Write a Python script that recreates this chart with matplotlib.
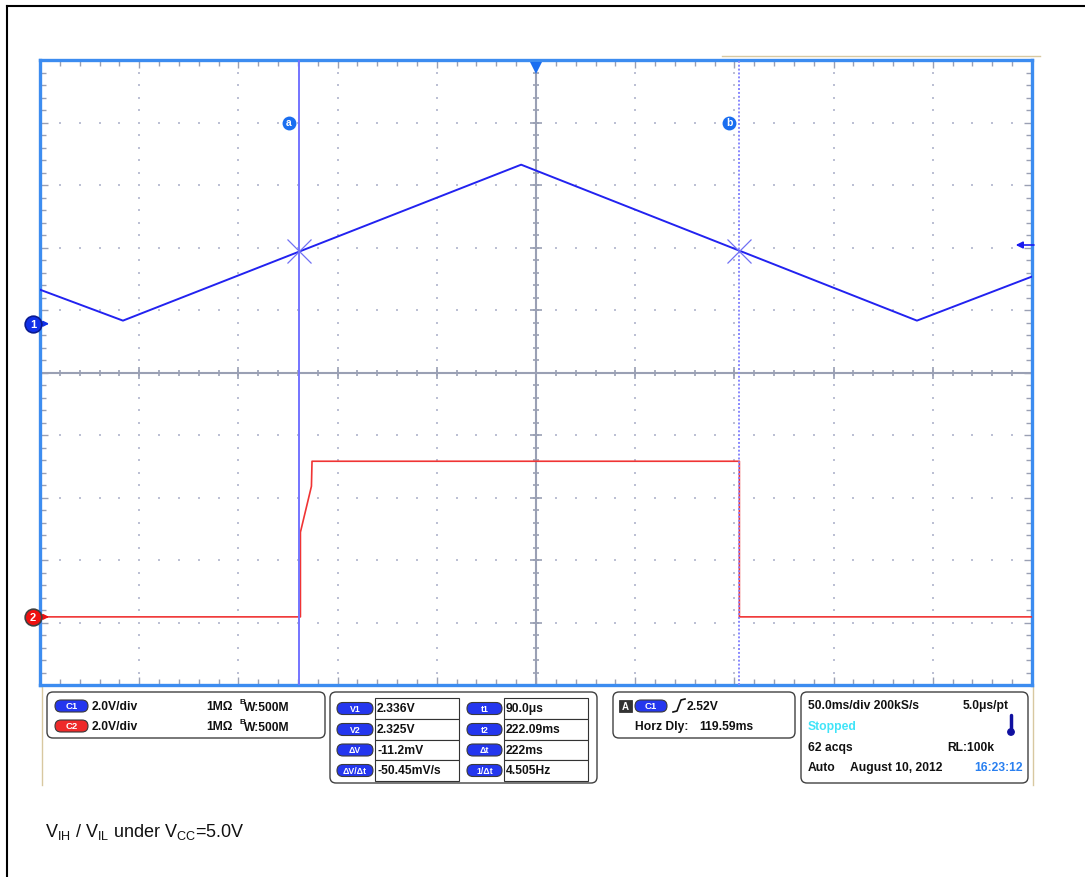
import numpy as np
import matplotlib
matplotlib.use("Agg")
import matplotlib.pyplot as plt
from matplotlib.patches import FancyBboxPatch, Rectangle, Circle
from matplotlib.transforms import blended_transform_factory

plt.rcParams['font.family'] = ['Liberation Sans', 'DejaVu Sans']
plt.rcParams['mathtext.fontset'] = 'custom'
plt.rcParams['mathtext.rm'] = 'Liberation Sans'
plt.rcParams['mathtext.it'] = 'Liberation Sans:italic'
plt.rcParams['mathtext.bf'] = 'Liberation Sans:bold'

# ---- data (time in ms, volts) ----
horz_dly = 119.59          # screen centre, ms
ms_per_div = 50.0
v_per_div = 2.0
c1_offset = 0.78           # channel 1 ground, divisions from centre
c2_offset = -3.91          # channel 2 ground
trig_level = 2.52

c1_t = [-130.4, -88.6, 112.1, 311.6, 369.6]
c1_v = [1.09, 0.10, 5.09, 0.10, 1.51]

c2_t = [-130.4, 0.85, 0.85, 0.85, 6.4, 6.7, 222.1, 222.1, 369.6]
c2_v = [0.0, 0.0, 2.39, 2.71, 4.18, 4.98, 4.98, 0.0, 0.0]

cur_t1, cur_t2 = 0.09, 222.09
cur_v1, cur_v2 = 2.336, 2.325

meas_names_1 = ['V1', 'V2', 'ΔV', 'ΔV/Δt']
meas_vals_1 = ['2.336V', '2.325V', '-11.2mV', '-50.45mV/s']
meas_names_2 = ['t1', 't2', 'Δt', '1/Δt']
meas_vals_2 = ['90.0μs', '222.09ms', '222ms', '4.505Hz']

W, H = 1085, 878
fig = plt.figure(figsize=(W / 100, H / 100), dpi=100)
fig.patch.set_facecolor('white')

# overlay in pixel coordinates for the frame, info panels and caption
ov = fig.add_axes([0, 0, 1, 1], zorder=0)
ov.set_xlim(0, W)
ov.set_ylim(H, 0)
ov.axis('off')

left, right, top, bottom = 40, 1032, 61, 686
ax = fig.add_axes([left / W, (H - bottom) / H, (right - left) / W, (bottom - top) / H], zorder=1)

x0 = horz_dly - 5 * ms_per_div
x1 = horz_dly + 5 * ms_per_div
ax.set_xlim(x0, x1)
ax.set_ylim(-5, 5)

frame_blue = '#3c8cf0'
for s in ax.spines.values():
    s.set_color(frame_blue)
    s.set_linewidth(2.4)

tick_col = '#9aa0b4'
ax.set_xticks(x0 + ms_per_div * np.arange(11))
ax.set_xticks(x0 + 10 * np.arange(51), minor=True)
ax.set_yticks(np.arange(-5, 6))
ax.set_yticks(np.linspace(-5, 5, 51), minor=True)
ax.tick_params(which='both', direction='in', top=True, right=True,
               labelbottom=False, labelleft=False, color=tick_col, width=1)
ax.tick_params(which='major', length=6)
ax.tick_params(which='minor', length=4)

# dotted graticule
dot_col = '#bcc0d4'
ymin = np.linspace(-5, 5, 51)
xmin = x0 + 10 * np.arange(51)
for k in range(1, 10):
    if k == 5:
        continue
    xk = x0 + k * ms_per_div
    ax.scatter(np.full_like(ymin, xk), ymin, s=2.5, marker='s', color=dot_col, linewidths=0, zorder=1)
for k in range(-4, 5):
    if k == 0:
        continue
    ax.scatter(xmin, np.full_like(xmin, k), s=2.5, marker='s', color=dot_col, linewidths=0, zorder=1)

# centre cross with ticks
ax.axhline(0, color=tick_col, lw=1.5, zorder=1)
ax.axvline(horz_dly, color=tick_col, lw=1.5, zorder=1)
ax.plot(np.full_like(ymin, horz_dly), ymin, ls='none', marker='_', ms=5, mew=1.2, color=tick_col, zorder=1)
ax.plot(np.full(11, horz_dly), np.arange(-5, 6), ls='none', marker='_', ms=8, mew=1.2, color=tick_col, zorder=1)
ax.plot(xmin, np.zeros_like(xmin), ls='none', marker='|', ms=5, mew=1.2, color=tick_col, zorder=1)
ax.plot(x0 + ms_per_div * np.arange(11), np.zeros(11), ls='none', marker='|', ms=8, mew=1.2, color=tick_col, zorder=1)

# traces
c1_y = np.array(c1_v) / v_per_div + c1_offset
c2_y = np.array(c2_v) / v_per_div + c2_offset
ax.plot(c1_t, c1_y, color='#2222f0', lw=1.4, zorder=3)
ax.plot(c2_t, c2_y, color='#f03434', lw=1.2, zorder=3)

# cursors
ax.axvline(cur_t1, color='#7474ff', lw=1.4, zorder=4)
ax.axvline(cur_t2, color='#8888ff', lw=1.4, ls=(0, (1, 1)), zorder=4)
ax.plot([cur_t1, cur_t2], [cur_v1 / v_per_div + c1_offset, cur_v2 / v_per_div + c1_offset],
        ls='none', marker='x', ms=17, mew=0.9, color='#7070f4', zorder=5)
for t, lab in [(cur_t1, 'a'), (cur_t2, 'b')]:
    ax.plot(t - 5, 4.0, marker='o', ms=10, color='#1a6ef0', mew=0, zorder=6)
    ax.text(t - 5, 4.0, lab, color='white', fontsize=7.5, fontweight='bold',
            ha='center', va='center', zorder=7)

# trigger position and level markers
ax.plot(horz_dly, 4.88, marker='v', ms=9, color='#1a6ef0', mew=0, clip_on=False, zorder=6)
trig_y = trig_level / v_per_div + c1_offset
ax.annotate('', xy=(360, trig_y), xytext=(372, trig_y),
            arrowprops=dict(arrowstyle='-|>', color='#1a1af0', lw=1.2, mutation_scale=10),
            annotation_clip=False, zorder=6)

# channel ground markers on the left edge
bt = blended_transform_factory(ax.transAxes, ax.transData)
for off, fc, ec, lab in [(c1_offset, '#1030e8', '#0a1a90', '1'), (c2_offset, '#ee1010', '#404040', '2')]:
    ax.annotate('', xy=(0.012, off), xytext=(-0.002, off), xycoords=bt,
                arrowprops=dict(arrowstyle='-|>', color=fc, lw=1.2, mutation_scale=8),
                annotation_clip=False, zorder=7)
    ax.plot(-0.007, off, marker='o', ms=12, color=fc, mec=ec, mew=1.2, transform=bt,
            clip_on=False, zorder=8)
    ax.text(-0.007, off, lab, color='white', fontsize=8, fontweight='bold', ha='center',
            va='center', transform=bt, zorder=9)

# ---- overlay decorations ----
ov.plot([7, 7], [7, H], color='black', lw=1.5)
ov.plot([7, W], [7, 7], color='black', lw=1.5)
tan = '#d8c8a0'
ov.plot([722, 1040], [57, 57], color=tan, lw=1)
ov.plot([42, 42], [688, 786], color=tan, lw=1)
ov.plot([1033, 1033], [688, 786], color=tan, lw=1)


def panel(xa, xb, ya, yb):
    ov.add_patch(FancyBboxPatch((xa, ya), xb - xa, yb - ya,
                                boxstyle='round,pad=0,rounding_size=6',
                                fc='white', ec='#404040', lw=1))


def pill(xa, xb, yc, color, label, h=12, fs=6.8):
    ov.add_patch(FancyBboxPatch((xa, yc - h / 2), xb - xa, h,
                                boxstyle=f'round,pad=0,rounding_size={h / 2}',
                                fc=color, ec='#3a3a3a', lw=0.8))
    ov.text((xa + xb) / 2, yc, label, color='white', fontsize=fs, fontweight='bold',
            ha='center', va='center')


fs = 8.7
bold = dict(fontsize=fs, fontweight='bold', va='center', color='#111111')

# panel 1: channel settings
panel(47, 325, 693, 739)
for yc, col, lab in [(707, '#2436ee', 'C1'), (727, '#ee2a2a', 'C2')]:
    pill(55, 88, yc, col, lab)
    ov.text(92, yc, '2.0V/div', **bold)
    ov.text(206, yc, '1MΩ', **bold)
    ov.text(239, yc - 4, 'B', fontsize=6, fontweight='bold', va='center', color='#111111')
    ov.text(244, yc + 1, 'W:500M', **bold)

# panel 2: cursor measurements
panel(330, 597, 693, 784)
row_edges = [699, 720, 741, 761, 782]
for i in range(4):
    yc = (row_edges[i] + row_edges[i + 1]) / 2
    pill(337, 373, yc, '#2436ee', meas_names_1[i], fs=6.3)
    pill(467, 502, yc, '#2436ee', meas_names_2[i], fs=6.3)
    for xa, xb, val in [(375, 459, meas_vals_1[i]), (504, 588, meas_vals_2[i])]:
        ov.add_patch(Rectangle((xa, row_edges[i]), xb - xa, row_edges[i + 1] - row_edges[i],
                               fc='white', ec='#333333', lw=0.8))
        ov.text(xa + 2, yc, val, **bold)

# panel 3: trigger
panel(613, 795, 693, 739)
ov.add_patch(Rectangle((619, 701), 13, 12, fc='#333333', ec='#222222', lw=0.5))
ov.text(625.5, 707, 'A', color='white', fontsize=7, fontweight='bold', ha='center', va='center')
pill(635, 667, 707, '#2436ee', 'C1')
ov.plot([673, 677, 681, 685], [713, 712, 701, 700], color='#111111', lw=1.2)
ov.text(687, 707, '2.52V', **bold)
ov.text(635, 727, 'Horz Dly:', **bold)
ov.text(699, 727, '119.59ms', **bold)

# panel 4: acquisition
panel(801, 1028, 693, 784)
ov.text(808, 706, '50.0ms/div 200kS/s', **bold)
ov.text(963, 706, '5.0μs/pt', **bold)
ov.text(808, 727, 'Stopped', fontsize=fs, fontweight='bold', va='center', color='#40e4f8')
ov.plot([1011, 1011], [716, 731], color='#1010a0', lw=2.5, solid_capstyle='round')
ov.add_patch(Circle((1011, 733), 3.2, color='#1010a0'))
ov.text(808, 748, '62 acqs', **bold)
ov.text(947, 748, 'RL:100k', **bold)
ov.text(808, 768, 'Auto', **bold)
ov.text(850, 768, 'August 10, 2012', **bold)
ov.text(974, 768, '16:23:12', fontsize=fs, fontweight='bold', va='center', color='#2a80f0')

# caption
ov.text(45, 832, r'V$_{\mathrm{IH}}$ / V$_{\mathrm{IL}}$ under V$_{\mathrm{CC}}$=5.0V',
        fontsize=13, va='center', color='#111111')

fig.savefig('out.png', dpi=100)
